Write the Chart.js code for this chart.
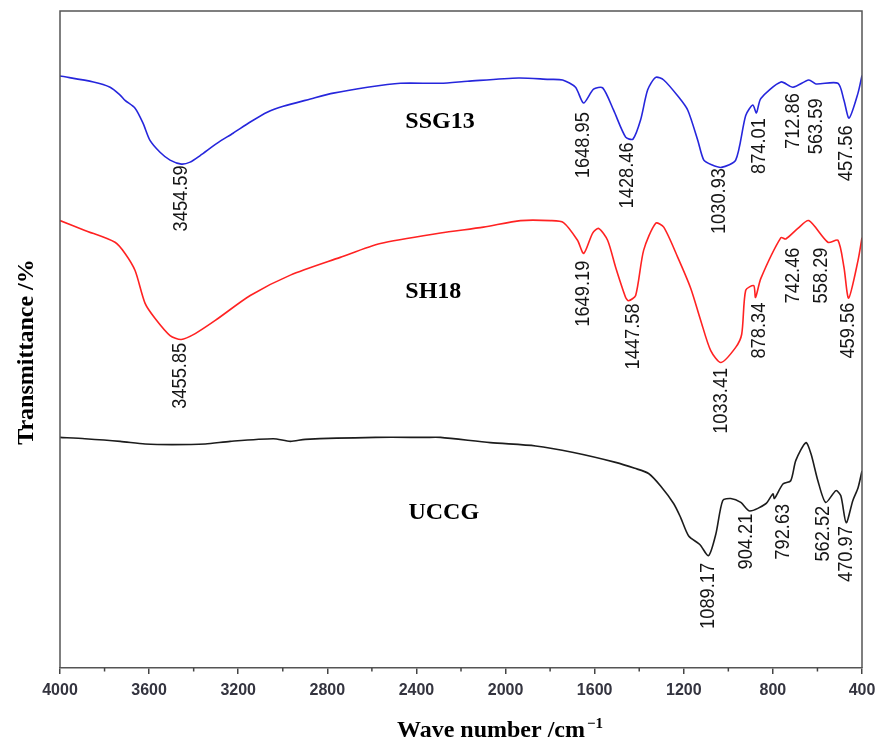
<!DOCTYPE html>
<html><head><meta charset="utf-8">
<script src="https://cdn.jsdelivr.net/npm/chart.js@4.4.1/dist/chart.umd.min.js"></script>
<style>html,body{margin:0;padding:0;background:#fff;}canvas{display:block;}</style>
</head><body>
<canvas id="c" width="878" height="743"></canvas>
<script>
// ---- data ----
const waveSSG13 = [4000,3850,3775,3730,3708,3663,3627,3596,3551,3506,3455,3416,3371,3294,3223,3146,3070,2998,2876,2773,2620,2472,2292,2171,1942,1807,1744,1686,1650,1605,1564,1515,1461,1428,1394,1362,1326,1290,1223,1182,1137,1110,1075,1031,967,922,890,874,854,764,710,639,607,508,481,458,418,400];
const transSSG13 = [90.1,89.2,88.4,87.2,86.4,85.2,82.9,80.3,78.5,77.3,76.7,77.0,78.0,79.9,81.4,83.1,84.6,85.5,86.6,87.5,88.4,89.0,89.0,89.3,89.8,89.6,89.5,88.4,86.0,88.1,88.3,84.9,80.8,80.5,83.4,88.0,89.9,89.5,86.9,84.9,80.3,77.3,76.6,76.2,77.3,84.1,85.7,84.5,86.7,89.2,88.4,89.5,88.9,89.0,86.4,83.7,87.5,90.2];

const waveSH18 = [4000,3888,3753,3708,3663,3618,3573,3506,3456,3393,3303,3146,2966,2742,2562,2292,2099,1933,1798,1740,1677,1649,1609,1582,1542,1506,1461,1448,1416,1380,1326,1290,1227,1169,1124,1079,1033,967,940,922,886,878,854,764,742,688,639,553,508,481,460,418,400];
const transSH18 = [68.1,66.6,64.8,63.1,60.5,55.5,53.2,50.6,50.0,50.9,52.9,56.7,59.8,62.5,64.6,66.2,67.1,68.1,68.1,67.8,65.1,63.1,66.2,66.9,65.1,61.0,56.4,55.9,56.7,63.6,67.7,67.1,62.5,57.8,52.9,48.3,46.5,48.8,50.8,57.5,58.2,56.4,59.3,65.5,65.3,66.9,68.1,64.8,65.1,61.0,56.3,62.0,65.5];

const waveUCCG = [4000,3888,3730,3618,3497,3348,3236,3043,2966,2899,2584,2360,2292,2068,1865,1695,1506,1420,1358,1304,1245,1214,1178,1128,1089,1056,1025,989,944,904,832,800,793,755,720,697,652,629,598,563,517,495,471,441,418,400];
const transUCCG = [35.1,34.9,34.5,34.1,34.0,34.1,34.5,34.9,34.5,34.8,35.1,35.1,35.1,34.3,33.8,32.8,31.3,30.4,29.6,27.7,25.0,22.9,20.1,18.8,17.1,20.4,25.5,25.8,25.2,23.9,25.0,26.5,25.8,28.0,28.5,31.6,34.3,32.6,28.5,25.2,27.0,26.2,22.1,25.5,27.4,30.0];

const xTickValues = [4000,3600,3200,2800,2400,2000,1600,1200,800,400];

// peak labels
const peakTextSSG13 = ['3454.59','1648.95','1428.46','1030.93','874.01','712.86','563.59','457.56'];
const peakAtSSG13   = [3456,1650,1452,1043,863,710,607,472];
const peakTopSSG13  = [76.5,84.6,80.0,76.1,83.7,87.5,86.7,82.6];

const peakTextSH18 = ['3455.85','1649.19','1447.58','1033.41','878.34','742.46','558.29','459.56'];
const peakAtSH18   = [3461,1650,1429,1034,863,710,584,463];
const peakTopSH18  = [49.5,62.0,55.5,45.7,55.6,64.0,64.0,55.6];

const peakTextUCCG = ['1089.17','904.21','792.63','562.52','470.97'];
const peakAtUCCG   = [1092,922,755,575,472];
const peakTopUCCG  = [16.0,23.5,25.0,24.7,21.6];

const seriesNames = ['SSG13','SH18','UCCG'];
const nameAtX = [2450,2450,2436];
const nameAtY = [82.2,56.3,22.7];

// ---- build ----
const pts = (w,t) => w.map((v,i)=>({x:v,y:t[i]}));
const colors = ['#2626dc','#ff2222','#1c1c1c'];

const peakGroups = [
  [peakTextSSG13, peakAtSSG13, peakTopSSG13],
  [peakTextSH18, peakAtSH18, peakTopSH18],
  [peakTextUCCG, peakAtUCCG, peakTopUCCG]
];

const decor = {
  id:'decor',
  afterDatasetsDraw(chart){
    const {ctx, chartArea:a, scales:{x,y}} = chart;
    ctx.save();
    ctx.strokeStyle = '#555'; ctx.lineWidth = 1.5;
    ctx.beginPath();
    ctx.moveTo(a.left, a.bottom); ctx.lineTo(a.left, a.top); ctx.lineTo(a.right, a.top); ctx.lineTo(a.right, a.bottom);
    ctx.stroke();
    ctx.strokeStyle = '#444'; ctx.lineWidth = 1.5;
    for (let i=0;i<xTickValues.length-1;i++){
      const m = (xTickValues[i]+xTickValues[i+1])/2;
      const px = x.getPixelForValue(m);
      ctx.beginPath(); ctx.moveTo(px, a.bottom); ctx.lineTo(px, a.bottom+3.5); ctx.stroke();
    }
    ctx.fillStyle = '#151515';
    ctx.font = '21px "Liberation Sans", Arial, sans-serif';
    ctx.textAlign = 'right'; ctx.textBaseline = 'middle';
    peakGroups.forEach(([txt, at, top]) => {
      txt.forEach((t,i)=>{
        const px = x.getPixelForValue(at[i]);
        const py = y.getPixelForValue(top[i]);
        ctx.save();
        ctx.translate(px, py);
        ctx.rotate(-Math.PI/2);
        ctx.scale(0.87, 1);
        ctx.fillText(t, 0, 0);
        ctx.restore();
      });
    });
    ctx.fillStyle = '#000';
    ctx.font = 'bold 24px "Liberation Serif", "Times New Roman", serif';
    ctx.textAlign = 'left'; ctx.textBaseline = 'alphabetic';
    seriesNames.forEach((n,i)=>{
      ctx.fillText(n, x.getPixelForValue(nameAtX[i]), y.getPixelForValue(nameAtY[i]));
    });
    ctx.save();
    ctx.translate(27, 352);
    ctx.rotate(-Math.PI/2);
    ctx.textAlign = 'center'; ctx.textBaseline = 'middle';
    ctx.fillText('Transmittance /%', 0, 0);
    ctx.restore();
    const main = 'Wave number /cm';
    const wMain = ctx.measureText(main).width;
    const x0 = 397;
    ctx.textAlign = 'left'; ctx.textBaseline = 'alphabetic';
    ctx.fillText(main, x0, 737);
    ctx.font = 'bold 15px "Liberation Serif", "Times New Roman", serif';
    ctx.fillText('\u22121', x0 + wMain + 2, 728);
    ctx.restore();
  }
};

new Chart(document.getElementById('c'), {
  type:'line',
  data:{
    datasets:[
      {label:'SSG13', data:pts(waveSSG13, transSSG13), borderColor:colors[0]},
      {label:'SH18', data:pts(waveSH18, transSH18), borderColor:colors[1]},
      {label:'UCCG', data:pts(waveUCCG, transUCCG), borderColor:colors[2]}
    ]
  },
  options:{
    responsive:false, animation:false,
    layout:{padding:{left:60, right:16, top:11, bottom:35.8}},
    elements:{line:{borderWidth:1.6, tension:0.25, fill:false}, point:{radius:0}},
    plugins:{legend:{display:false}, tooltip:{enabled:false}},
    scales:{
      x:{type:'linear', reverse:true, min:400, max:4000,
        afterBuildTicks(s){ s.ticks = xTickValues.map(v=>({value:v})); },
        afterFit(s){ s.paddingLeft = 0; s.paddingRight = 0; },
        ticks:{padding:7, color:'#34343f', font:{family:'"Liberation Sans", Arial, sans-serif', size:16, weight:'bold'}, maxRotation:0, autoSkip:false,
          callback:(v)=>String(v)},
        grid:{drawOnChartArea:false, drawTicks:true, tickLength:6, color:'#444', lineWidth:1.5},
        border:{display:true, color:'#555', width:1.5}
      },
      y:{display:false, min:0, max:100}
    }
  },
  plugins:[decor]
});
</script>
</body></html>
